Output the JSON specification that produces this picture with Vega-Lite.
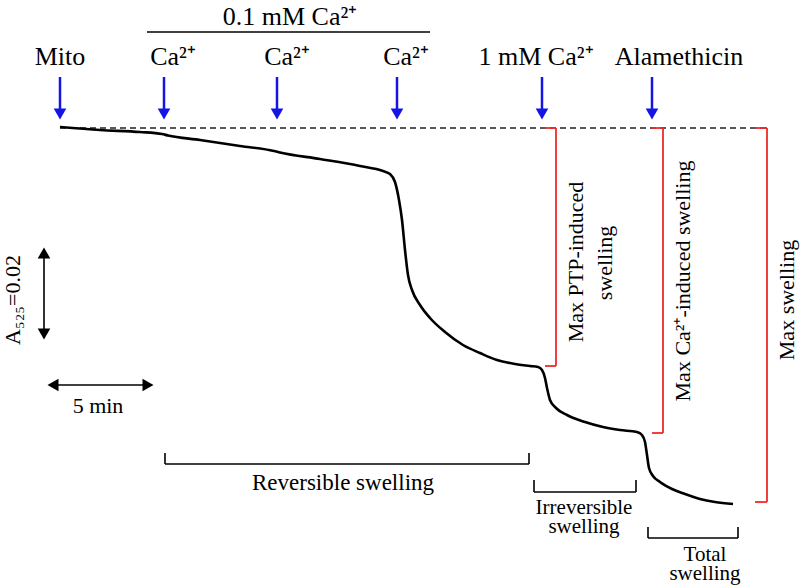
{
  "$schema": "https://vega.github.io/schema/vega-lite/v6.json",
  "width": 800,
  "height": 586,
  "autosize": {"type": "none"},
  "padding": 0,
  "background": "white",
  "config": {"view": {"stroke": null}},
  "datasets": {
    "curve": [
      {"x": 60, "y": 127}, {"x": 100, "y": 130}, {"x": 140, "y": 132}, {"x": 162, "y": 134}, {"x": 168, "y": 135.5},
      {"x": 200, "y": 140}, {"x": 240, "y": 146}, {"x": 274, "y": 151}, {"x": 280, "y": 152.5}, {"x": 320, "y": 159},
      {"x": 360, "y": 166}, {"x": 383, "y": 171}, {"x": 390, "y": 174}, {"x": 395, "y": 182}, {"x": 399, "y": 200},
      {"x": 402, "y": 220}, {"x": 405, "y": 250}, {"x": 408, "y": 275}, {"x": 412, "y": 290}, {"x": 420, "y": 305},
      {"x": 430, "y": 318}, {"x": 445, "y": 332}, {"x": 463, "y": 345}, {"x": 480, "y": 353}, {"x": 497, "y": 360},
      {"x": 515, "y": 364}, {"x": 530, "y": 366}, {"x": 538, "y": 367}, {"x": 542, "y": 370}, {"x": 545, "y": 378},
      {"x": 547, "y": 388}, {"x": 550, "y": 400}, {"x": 556, "y": 408}, {"x": 567, "y": 415}, {"x": 585, "y": 422},
      {"x": 603, "y": 427}, {"x": 620, "y": 430}, {"x": 637, "y": 432}, {"x": 642, "y": 435}, {"x": 645, "y": 442},
      {"x": 647, "y": 455}, {"x": 649, "y": 468}, {"x": 653, "y": 476}, {"x": 660, "y": 482}, {"x": 672, "y": 489},
      {"x": 685, "y": 494}, {"x": 700, "y": 499}, {"x": 715, "y": 502}, {"x": 733, "y": 504}
    ],
    "black": [
      {"x": 147, "y": 32, "x2": 430, "y2": 32},
      {"x": 165, "y": 453, "x2": 165, "y2": 464},
      {"x": 165, "y": 464, "x2": 529, "y2": 464},
      {"x": 529, "y": 453, "x2": 529, "y2": 464},
      {"x": 534, "y": 480, "x2": 534, "y2": 492},
      {"x": 534, "y": 492, "x2": 636, "y2": 492},
      {"x": 636, "y": 480, "x2": 636, "y2": 492},
      {"x": 648, "y": 527, "x2": 648, "y2": 538},
      {"x": 648, "y": 538, "x2": 738, "y2": 538},
      {"x": 738, "y": 527, "x2": 738, "y2": 538},
      {"x": 44, "y": 250, "x2": 44, "y2": 337},
      {"x": 50, "y": 385, "x2": 151, "y2": 385}
    ],
    "red": [
      {"x": 545, "y": 128, "x2": 556, "y2": 128},
      {"x": 556, "y": 128, "x2": 556, "y2": 366},
      {"x": 545, "y": 366, "x2": 556, "y2": 366},
      {"x": 652, "y": 128, "x2": 663, "y2": 128},
      {"x": 663, "y": 128, "x2": 663, "y2": 433},
      {"x": 652, "y": 433, "x2": 663, "y2": 433},
      {"x": 755, "y": 128, "x2": 767, "y2": 128},
      {"x": 767, "y": 128, "x2": 767, "y2": 502},
      {"x": 755, "y": 502, "x2": 767, "y2": 502}
    ],
    "blue": [
      {"x": 60, "y": 77, "x2": 60, "y2": 112},
      {"x": 164, "y": 77, "x2": 164, "y2": 112},
      {"x": 277, "y": 77, "x2": 277, "y2": 112},
      {"x": 397, "y": 77, "x2": 397, "y2": 112},
      {"x": 542, "y": 77, "x2": 542, "y2": 112},
      {"x": 652, "y": 77, "x2": 652, "y2": 112}
    ],
    "heads": [
      {"x": 60, "y": 114, "shape": "triangle-down", "c": "#1414e6"},
      {"x": 164, "y": 114, "shape": "triangle-down", "c": "#1414e6"},
      {"x": 277, "y": 114, "shape": "triangle-down", "c": "#1414e6"},
      {"x": 397, "y": 114, "shape": "triangle-down", "c": "#1414e6"},
      {"x": 542, "y": 114, "shape": "triangle-down", "c": "#1414e6"},
      {"x": 652, "y": 114, "shape": "triangle-down", "c": "#1414e6"},
      {"x": 44, "y": 253, "shape": "triangle-up", "c": "black"},
      {"x": 44, "y": 334, "shape": "triangle-down", "c": "black"},
      {"x": 53, "y": 385, "shape": "triangle-left", "c": "black"},
      {"x": 148, "y": 385, "shape": "triangle-right", "c": "black"}
    ],
    "labels": [
      {"x": 290, "y": 17, "t": "0.1 mM Ca²⁺", "s": 26, "a": 0},
      {"x": 60, "y": 57, "t": "Mito", "s": 26, "a": 0},
      {"x": 173, "y": 57, "t": "Ca²⁺", "s": 26, "a": 0},
      {"x": 287, "y": 57, "t": "Ca²⁺", "s": 26, "a": 0},
      {"x": 406, "y": 57, "t": "Ca²⁺", "s": 26, "a": 0},
      {"x": 536, "y": 57, "t": "1 mM Ca²⁺", "s": 26, "a": 0},
      {"x": 679, "y": 57, "t": "Alamethicin", "s": 26, "a": 0},
      {"x": 576, "y": 262, "t": "Max PTP-induced", "s": 22, "a": 270},
      {"x": 605, "y": 263, "t": "swelling", "s": 22, "a": 270},
      {"x": 683, "y": 281, "t": "Max Ca²⁺-induced  swelling", "s": 22, "a": 270},
      {"x": 787, "y": 300, "t": "Max swelling", "s": 22, "a": 270},
      {"x": 13, "y": 300, "t": "A₅₂₅=0.02", "s": 22, "a": 270},
      {"x": 98, "y": 406, "t": "5 min", "s": 22, "a": 0},
      {"x": 343, "y": 483, "t": "Reversible  swelling", "s": 23, "a": 0},
      {"x": 584, "y": 508, "t": "Irreversible\nswelling", "s": 21, "a": 0},
      {"x": 705, "y": 555, "t": "Total\nswelling", "s": 21, "a": 0}
    ]
  },
  "encoding": {
    "x": {"field": "x", "type": "quantitative", "scale": {"domain": [0, 800], "nice": false, "zero": false}, "axis": null},
    "y": {"field": "y", "type": "quantitative", "scale": {"domain": [0, 586], "nice": false, "zero": false, "reverse": true}, "axis": null}
  },
  "layer": [
    {
      "data": {"values": [{"x": 60, "x2": 770, "y": 128}]},
      "mark": {"type": "rule", "strokeDash": [6, 4], "strokeWidth": 1.4, "color": "#222222"},
      "encoding": {"x2": {"field": "x2"}}
    },
    {
      "data": {"name": "black"},
      "mark": {"type": "rule", "strokeWidth": 1.6, "color": "black"},
      "encoding": {"x2": {"field": "x2"}, "y2": {"field": "y2"}}
    },
    {
      "data": {"name": "red"},
      "mark": {"type": "rule", "strokeWidth": 1.8, "color": "#ee2a2a"},
      "encoding": {"x2": {"field": "x2"}, "y2": {"field": "y2"}}
    },
    {
      "data": {"name": "blue"},
      "mark": {"type": "rule", "strokeWidth": 2.5, "color": "#1414e6"},
      "encoding": {"x2": {"field": "x2"}, "y2": {"field": "y2"}}
    },
    {
      "data": {"name": "heads"},
      "mark": {"type": "point", "filled": true, "opacity": 1, "size": 160},
      "encoding": {
        "shape": {"field": "shape", "type": "nominal", "scale": null},
        "color": {"field": "c", "type": "nominal", "scale": null}
      }
    },
    {
      "data": {"name": "curve"},
      "mark": {"type": "line", "interpolate": "monotone", "strokeWidth": 2.6, "color": "black"},
      "encoding": {}
    },
    {
      "data": {"name": "labels"},
      "mark": {"type": "text", "font": "Liberation Serif", "align": "center", "baseline": "middle", "color": "black", "lineBreak": "\n", "lineHeight": 19},
      "encoding": {
        "text": {"field": "t"},
        "size": {"field": "s", "type": "quantitative", "scale": null},
        "angle": {"field": "a", "type": "quantitative", "scale": null}
      }
    }
  ]
}
